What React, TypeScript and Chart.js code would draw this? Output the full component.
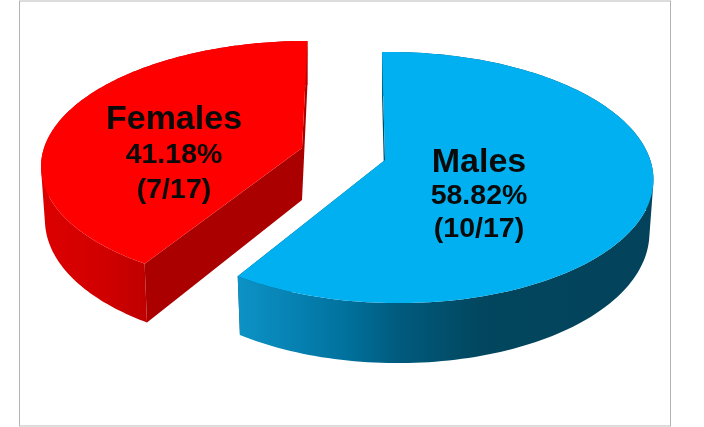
import React, { useEffect, useRef } from "react";
import { Chart, registerables } from "chart.js";

Chart.register(...registerables);

const categories = ["Males", "Females"];
const counts = [10, 7];
const percentLabels = ["58.82%", "41.18%"];
const countLabels = ["(10/17)", "(7/17)"];

// Oblique-perspective view of each exploded slice (pixels)
const views = [
  { cx: 385, cy: 160, a: 256, b: 123, p: 0.14, q: 0.035, shear: 3, shrink: 0.985,
    top: "#00b0f0", cut: "#004a66",
    wall: [[236, "#0d93c6"], [300, "#0580b0"], [352, "#006f9a"], [400, "#015a7d"], [480, "#02475f"], [655, "#03425a"]] },
  { cx: 302, cy: 148, a: 258, b: 121, p: 0.13, q: 0, shear: -5.5, shrink: 0.985,
    top: "#ff0000", cut: "#aa0000",
    wall: [[40, "#dc0000"], [100, "#d20000"], [143, "#c00000"]] },
];
const labelSpots = [
  { x: 479, y: [172, 204, 237] },
  { x: 174, y: [129, 163, 198] },
];

const pieFrame = {
  id: "pieFrame",
  beforeDatasetsDraw(chart: any) {
    const ctx: CanvasRenderingContext2D = chart.ctx;
    ctx.save();
    // frame
    ctx.fillStyle = "#dcdcdc";
    ctx.fillRect(19, 0, 652, 2);
    ctx.fillRect(19, 425, 652, 2);
    ctx.fillStyle = "#b4b4b4";
    ctx.fillRect(19, 1, 1, 425);
    ctx.fillRect(670, 1, 1, 425);

    const meta = chart.getDatasetMeta(0);
    const order = [1, 0];
    order.forEach((i) => {
      const v = views[i];
      const { startAngle, endAngle } = meta.data[i].getProps(["startAngle", "endAngle"]);
      const topPt = (th: number, r = 1) => {
        const uu = Math.cos(th) * r;
        const vv = Math.sin(th) * r;
        const k = 1 / (1 - v.p * vv - v.q * uu);
        return [v.cx + v.shear * vv + v.a * uu * k, v.cy + v.b * vv * k];
      };
      const lowPt = (th: number, r = 1) => {
        const [x, y] = topPt(th, r);
        return [v.cx + (x - v.cx) * v.shrink, y + 52 + 8 * Math.sin(th) * r];
      };
      const steps = 160;
      const arcAngles: number[] = [];
      for (let s = 0; s <= steps; s++) arcAngles.push(startAngle + ((endAngle - startAngle) * s) / steps);
      const trace = (pts: number[][]) => {
        pts.forEach(([x, y], n) => (n ? ctx.lineTo(x, y) : ctx.moveTo(x, y)));
        ctx.closePath();
      };
      const poly = (pts: number[][], fill: any) => {
        ctx.beginPath();
        trace(pts);
        ctx.fillStyle = fill;
        ctx.fill();
      };
      // cut faces
      [startAngle, endAngle].forEach((th: number) => {
        poly([topPt(th, 0), topPt(th), lowPt(th), lowPt(th, 0)], v.cut);
      });
      // outer wall: strips of one winding in one path, so there are no seams
      const x0 = v.wall[0][0] as number;
      const x1 = v.wall[v.wall.length - 1][0] as number;
      const g = ctx.createLinearGradient(x0, 0, x1, 0);
      v.wall.forEach(([x, c]) => g.addColorStop(((x as number) - x0) / (x1 - x0), c as string));
      ctx.beginPath();
      for (let s = 0; s < steps; s++) {
        const a = arcAngles[s];
        const b = arcAngles[s + 1];
        const q = [topPt(a), topPt(b), lowPt(b), lowPt(a)];
        let area = 0;
        q.forEach(([x, y], n) => {
          const [nx, ny] = q[(n + 1) % 4];
          area += x * ny - nx * y;
        });
        trace(area < 0 ? q.reverse() : q);
      }
      ctx.fillStyle = g;
      ctx.fill("nonzero");
      // top face
      poly([topPt(0, 0), ...arcAngles.map((t) => topPt(t))], v.top);
    });

    // labels
    ctx.fillStyle = "#0a0a0a";
    ctx.textAlign = "center";
    ctx.textBaseline = "alphabetic";
    categories.forEach((name, i) => {
      const s = labelSpots[i];
      ctx.font = 'bold 34px "Liberation Sans"';
      ctx.fillText(name, s.x, s.y[0]);
      ctx.font = 'bold 28.5px "Liberation Sans"';
      ctx.fillText(percentLabels[i], s.x, s.y[1]);
      ctx.fillText(countLabels[i], s.x, s.y[2]);
    });
    ctx.restore();
    return false;
  },
};

export default function App() {
  const ref = useRef<HTMLCanvasElement>(null);
  useEffect(() => {
    const chart = new Chart(ref.current as HTMLCanvasElement, {
      type: "pie",
      data: {
        labels: categories,
        datasets: [{ data: counts, backgroundColor: ["#00b0f0", "#ff0000"], borderWidth: 0 }],
      },
      options: {
        responsive: false,
        animation: false,
        events: [],
        plugins: {
          legend: { display: false },
          tooltip: { enabled: false },
        },
      },
      plugins: [pieFrame],
    } as any);
    return () => chart.destroy();
  }, []);
  return (
    <div style={{ position: "fixed", left: 0, top: 0, width: 704, height: 427, background: "#fff" }}>
      <canvas ref={ref} width={704} height={427} style={{ display: "block" }} />
    </div>
  );
}
